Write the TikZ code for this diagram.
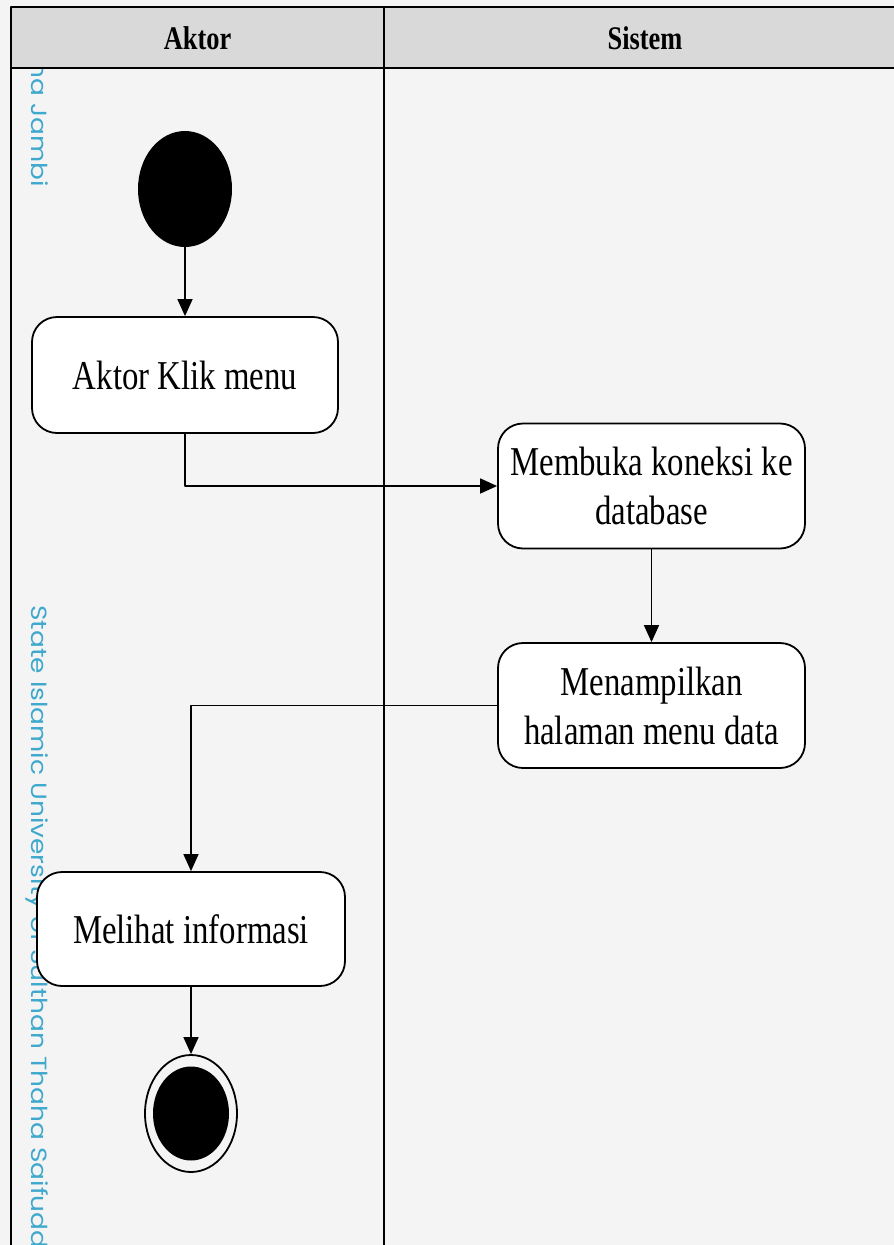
\documentclass[tikz,border=0pt]{standalone}
\usepackage{fontspec}
\setmainfont{Liberation Serif}
\newfontfamily\condfont[FakeStretch=0.8]{Liberation Serif}
\newfontfamily\wmfont[FakeStretch=1.2]{Poppins}
\usetikzlibrary{arrows.meta,shapes.geometric}
\definecolor{bgc}{RGB}{244,244,244}
\definecolor{hdc}{RGB}{217,217,217}
\definecolor{wmc}{RGB}{62,168,205}
\begin{document}
\begin{tikzpicture}[x=1pt,y=-1pt,line join=round,
  act/.style={draw,line width=1.8pt,fill=white,rounded corners=25pt,align=center,
    inner sep=0pt,font=\condfont\fontsize{41}{49}\selectfont},
  flow/.style={line width=1.6pt,-{Triangle[length=17pt,width=15pt]}},
  lane/.style={line width=1.8pt},
  hdtext/.style={font=\condfont\bfseries\fontsize{33}{36}\selectfont},
  wm/.style={rotate=-90,text=wmc,inner sep=0pt,font=\wmfont\fontsize{22}{24}\selectfont}]
\useasboundingbox (0,0) rectangle (894,1245);
\clip (0,0) rectangle (894,1245);
\fill[bgc] (0,0) rectangle (894,1245);
% watermark
\node[wm,anchor=base east] (wm1) at (31,187) {na Jambi};
\node[wm,anchor=base west] (wm2) at (31,605) {State Islamic University of Sulthan Thaha Saifudd};
% swimlanes
\filldraw[lane,fill=hdc] (11,7) rectangle (910,68);
\draw[lane] (11,68) -- (11,1250);
\draw[lane] (384,7) -- (384,1250);
\node[hdtext] (h1) at (197.5,38) {Aktor};
\node[hdtext] (h2) at (645,38) {Sistem};
% nodes
\node[ellipse,fill=black,minimum width=94pt,minimum height=116pt,inner sep=0pt] (start) at (185,189) {};
\node[act,minimum width=306pt,minimum height=116pt] (a1) at (185,375) {Aktor Klik menu};
\node[act,minimum width=307pt,minimum height=125pt] (a2) at (651.5,486) {Membuka koneksi ke\\database};
\node[act,minimum width=307pt,minimum height=125pt] (a3) at (651.5,705.5) {Menampilkan\\halaman menu data};
\node[act,minimum width=308pt,minimum height=114pt] (a4) at (191,929) {Melihat informasi};
\node[ellipse,draw,line width=1.8pt,minimum width=92pt,minimum height=117pt,inner sep=0pt] (end) at (191,1113.5) {};
\node[ellipse,fill=black,minimum width=76pt,minimum height=94pt,inner sep=0pt] (endin) at (end.center) {};
% connectors
\draw[flow] (start) -- (a1);
\draw[flow] (a1.south) |- (a2.west);
\draw[flow] (a2) -- (a3);
\draw[flow] (a3.west) -| (a4.north);
\draw[flow] (a4) -- (end);
\end{tikzpicture}
\end{document}
